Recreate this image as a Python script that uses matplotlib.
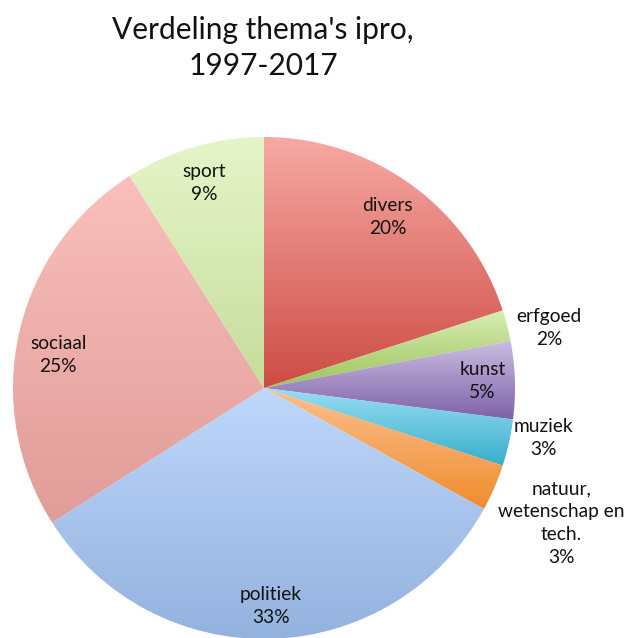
import numpy as np
import matplotlib
matplotlib.use('Agg')
import matplotlib.pyplot as plt
from matplotlib.colors import to_rgb

### data
categories = ['divers', 'erfgoed', 'kunst', 'muziek', 'natuur,\nwetenschap en\ntech.',
              'politiek', 'sociaal', 'sport']
shares = [20, 2, 5, 3, 3, 33, 25, 9]

# gradient per slice: (top colour, bottom colour)
top_colors = ['#f7a9a3', '#d8edb4', '#cbbde3', '#98def3', '#fbc08f',
              '#bfd7fb', '#fabfbc', '#e6f5c9']
bottom_colors = ['#cd4c45', '#9cc45c', '#7e62a8', '#37adca', '#f08c2e',
                 '#93b2de', '#e09c98', '#c6dd9c']

# label placement: radius (in pie radii) and angle nudge (deg) from the slice middle
label_r = [0.84, 1.16, 0.87, 1.13, 1.30, 0.87, 0.83, 0.85]
label_dang = [0, -2.5, 0, 2.5, -1, 0, 3.5, 0]

font = 'Lato'
W, H = 631, 638
cx, cy, rad = 264, 388, 251     # pie centre and radius in pixels

fig = plt.figure(figsize=(W/100., H/100.), dpi=100)
ax = fig.add_axes([(cx-rad)/W, (H-cy-rad)/H, 2.*rad/W, 2.*rad/H])

wedges, _ = ax.pie(shares, startangle=90, counterclock=False, radius=1,
                   wedgeprops=dict(linewidth=0))

for w, c0, c1 in zip(wedges, top_colors, bottom_colors):
    # bounding box of the wedge to stretch the gradient over
    th = np.radians(np.linspace(w.theta1, w.theta2, 200))
    xs = np.concatenate([[0], np.cos(th)])
    ys = np.concatenate([[0], np.sin(th)])
    grad = np.linspace(0, 1, 256)[:, None, None]
    img = (1-grad)*np.array(to_rgb(c0)) + grad*np.array(to_rgb(c1))
    w.set_facecolor('none')
    im = ax.imshow(img, extent=[xs.min(), xs.max(), ys.min(), ys.max()],
                   origin='upper', aspect='auto', interpolation='bilinear', zorder=1)
    im.set_clip_path(w)

for w, name, v, r, da in zip(wedges, categories, shares, label_r, label_dang):
    mid = np.radians((w.theta1 + w.theta2)/2. + da)
    ax.text(r*np.cos(mid), r*np.sin(mid), '%s\n%d%%' % (name, v), ha='center', va='center',
            fontsize=13.8, family=font, color='#111111', linespacing=1.42, zorder=3)

ax.set_xlim(-1, 1)
ax.set_ylim(-1, 1)
ax.set_aspect('equal')
ax.axis('off')

fig.text(263./W, 1-48./H, "Verdeling thema's ipro,\n1997-2017", ha='center', va='center',
         fontsize=21.5, family=font, color='#111111', linespacing=1.35)

fig.savefig('out.png', dpi=100)
